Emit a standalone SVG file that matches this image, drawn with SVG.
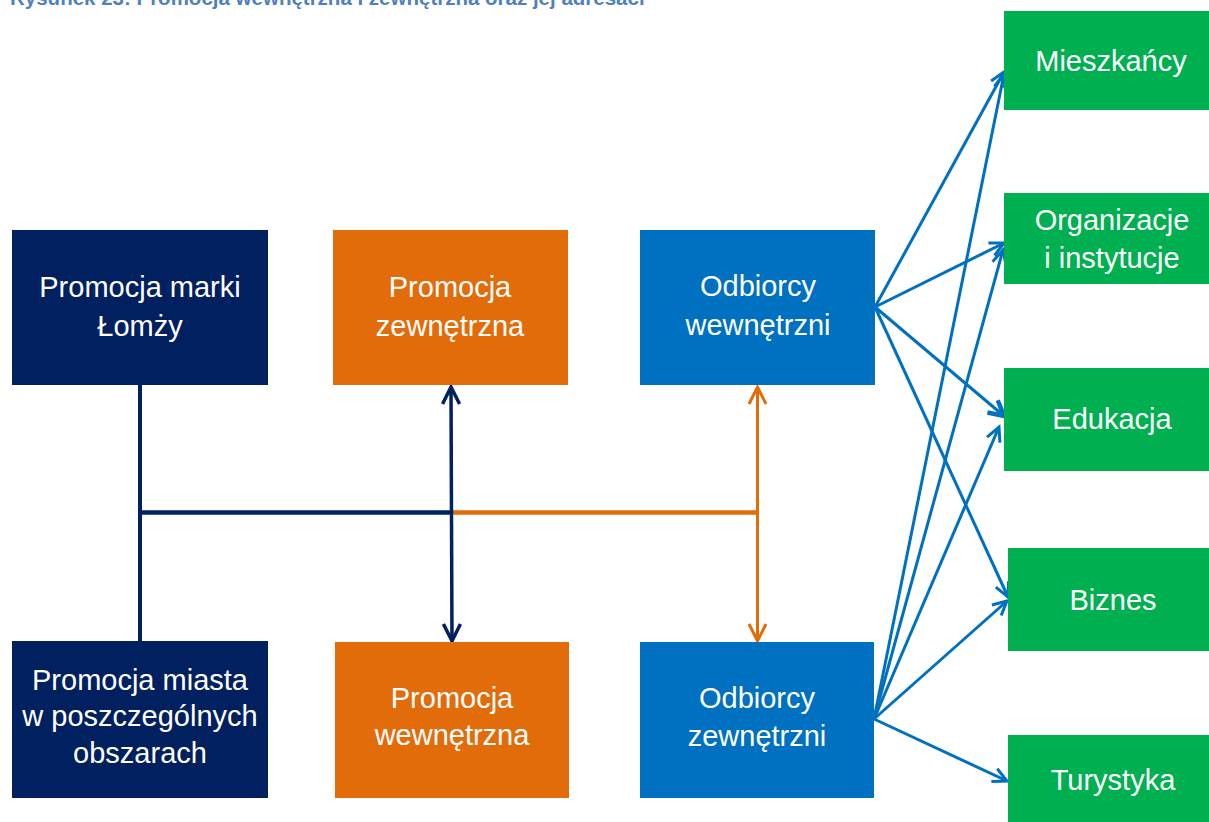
<svg xmlns="http://www.w3.org/2000/svg" width="1209" height="822" viewBox="0 0 1209 822">
<style>
.t{font-family:"Liberation Sans",Arial,sans-serif;font-size:29px;fill:#ffffff;text-anchor:middle}
.title{font-family:"Liberation Sans",Arial,sans-serif;font-size:20.5px;font-weight:bold;fill:#4F81BD}
.navy{fill:#002060}.orange{fill:#E36C0A}.blue{fill:#0070C0}.green{fill:#00B050}
.ln{fill:none;stroke-linecap:butt}
.nv{stroke:#002060}.or{stroke:#E36C0A}.bl{stroke:#0070C0;stroke-width:3}
</style>
<defs>
<marker id="mN" viewBox="-22 -12 26 24" refX="0" refY="0" markerWidth="26" markerHeight="24" markerUnits="userSpaceOnUse" orient="auto-start-reverse">
<path d="M-17,-8.5 L0,0 L-17,8.5" fill="none" stroke="#002060" stroke-width="3.5"/>
</marker>
<marker id="mO" viewBox="-22 -12 26 24" refX="0" refY="0" markerWidth="26" markerHeight="24" markerUnits="userSpaceOnUse" orient="auto-start-reverse">
<path d="M-17,-8.5 L0,0 L-17,8.5" fill="none" stroke="#E36C0A" stroke-width="3"/>
</marker>
<marker id="mB" viewBox="-20 -12 24 24" refX="0" refY="0" markerWidth="24" markerHeight="24" markerUnits="userSpaceOnUse" orient="auto">
<path d="M-14,-7 L0,0 L-14,7" fill="none" stroke="#0070C0" stroke-width="3"/>
</marker>
<marker id="mB2" viewBox="-22 -12 26 24" refX="0" refY="0" markerWidth="26" markerHeight="24" markerUnits="userSpaceOnUse" orient="auto">
<path d="M-15,-8 L0,0 L-15,8" fill="none" stroke="#0070C0" stroke-width="4.5"/>
</marker>
</defs>
<text class="title" x="10" y="5">Rysunek 23: Promocja wewnętrzna i zewnętrzna oraz jej adresaci</text>
<g id="connectors">
<line class="ln nv" x1="140" y1="385" x2="140" y2="641" stroke-width="4"/>
<line class="ln nv" x1="138" y1="512.5" x2="453" y2="512.5" stroke-width="4.5"/>
<line class="ln or" x1="453" y1="512.5" x2="759" y2="512.5" stroke-width="4.5"/>
<line class="ln nv" x1="451" y1="387" x2="452" y2="641" stroke-width="3.5" marker-start="url(#mN)" marker-end="url(#mN)"/>
<line class="ln or" x1="757.5" y1="387" x2="757.5" y2="641" stroke-width="3" marker-start="url(#mO)" marker-end="url(#mO)"/>
<line class="ln bl" x1="875" y1="307" x2="1004" y2="72" marker-end="url(#mB)"/>
<line class="ln bl" x1="875" y1="307" x2="1004" y2="243" marker-end="url(#mB)"/>
<line class="ln bl" x1="875" y1="307" x2="1004" y2="416" stroke-width="4.5" marker-end="url(#mB2)"/>
<line class="ln bl" x1="875" y1="307" x2="1008" y2="597" marker-end="url(#mB)"/>
<line class="ln bl" x1="874" y1="719" x2="1004" y2="74" marker-end="url(#mB)"/>
<line class="ln bl" x1="874" y1="719" x2="1003" y2="250" marker-end="url(#mB)"/>
<line class="ln bl" x1="874" y1="719" x2="999" y2="427" marker-end="url(#mB)"/>
<line class="ln bl" x1="874" y1="719" x2="1007" y2="601" marker-end="url(#mB)"/>
<line class="ln bl" x1="874" y1="719" x2="1007" y2="781" marker-end="url(#mB)"/>
</g>
<g id="promocja-marki">
<rect class="navy" x="12" y="230" width="256" height="155"/>
<text class="t" x="140" y="297">Promocja marki</text>
<text class="t" x="140" y="336">Łomży</text>
</g>
<g id="promocja-zewnetrzna">
<rect class="orange" x="333" y="230" width="235" height="155"/>
<text class="t" x="450" y="297">Promocja</text>
<text class="t" x="450" y="336">zewnętrzna</text>
</g>
<g id="odbiorcy-wewnetrzni">
<rect class="blue" x="640" y="230" width="235" height="155"/>
<text class="t" x="758" y="296">Odbiorcy</text>
<text class="t" x="758" y="335">wewnętrzni</text>
</g>
<g id="promocja-miasta">
<rect class="navy" x="12" y="641" width="256" height="157"/>
<text class="t" x="140" y="690">Promocja miasta</text>
<text class="t" x="140" y="726">w poszczególnych</text>
<text class="t" x="140" y="763">obszarach</text>
</g>
<g id="promocja-wewnetrzna">
<rect class="orange" x="335" y="642" width="234" height="156"/>
<text class="t" x="452" y="708">Promocja</text>
<text class="t" x="452" y="745">wewnętrzna</text>
</g>
<g id="odbiorcy-zewnetrzni">
<rect class="blue" x="640" y="642" width="234" height="156"/>
<text class="t" x="757" y="708">Odbiorcy</text>
<text class="t" x="757" y="746">zewnętrzni</text>
</g>
<g id="mieszkancy">
<rect class="green" x="1004" y="11" width="205" height="99"/>
<text class="t" x="1111" y="71">Mieszkańcy</text>
</g>
<g id="organizacje">
<rect class="green" x="1004" y="193" width="205" height="91"/>
<text class="t" x="1112" y="230">Organizacje</text>
<text class="t" x="1112" y="268">i instytucje</text>
</g>
<g id="edukacja">
<rect class="green" x="1004" y="368" width="205" height="103"/>
<text class="t" x="1112" y="429">Edukacja</text>
</g>
<g id="biznes">
<rect class="green" x="1008" y="548" width="201" height="103"/>
<text class="t" x="1113" y="610">Biznes</text>
</g>
<g id="turystyka">
<rect class="green" x="1008" y="735" width="201" height="87"/>
<text class="t" x="1113" y="790">Turystyka</text>
</g>
</svg>
